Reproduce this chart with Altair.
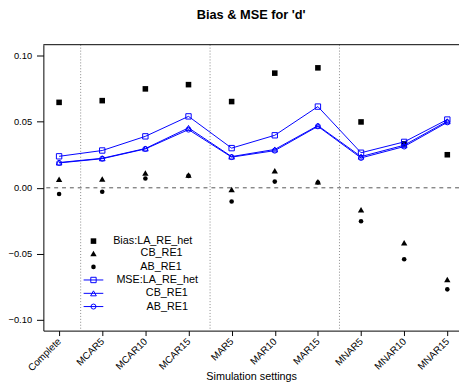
import altair as alt
import pandas as pd

categories = ["Complete", "MCAR5", "MCAR10", "MCAR15", "MAR5", "MAR10", "MAR15",
              "MNAR5", "MNAR10", "MNAR15"]
bias_la = [0.0646, 0.0659, 0.0748, 0.0780, 0.0652, 0.0867, 0.0907, 0.0498, 0.0332, 0.0250]
bias_cb = [0.0065, 0.0067, 0.0111, 0.0097, -0.0012, 0.0129, 0.0045, -0.0166, -0.0416, -0.0693]
bias_ab = [-0.0047, -0.0030, 0.0070, 0.0090, -0.0104, 0.0047, 0.0040, -0.0253, -0.0540, -0.0768]
mse_la = [0.0238, 0.0282, 0.0389, 0.0540, 0.0300, 0.0397, 0.0614, 0.0265, 0.0347, 0.0516]
mse_cb = [0.0191, 0.0223, 0.0297, 0.0453, 0.0236, 0.0290, 0.0470, 0.0236, 0.0322, 0.0503]
mse_ab = [0.0188, 0.0220, 0.0294, 0.0440, 0.0232, 0.0281, 0.0465, 0.0226, 0.0312, 0.0495]
separators = [0.5, 3.5, 6.5]
methods = ["LA", "CB", "AB"]
shapes = ["square", "triangle-up", "circle"]
filled_sizes = {"LA": 32, "CB": 42, "AB": 22}
open_sizes = {"LA": 30, "CB": 34, "AB": 26}

legend_labels = ["Bias:LA_RE_het", "CB_RE1", "AB_RE1", "MSE:LA_RE_het", "CB_RE1", "AB_RE1"]
legend_kind = ["Bias", "Bias", "Bias", "MSE", "MSE", "MSE"]
legend_method = ["LA", "CB", "AB", "LA", "CB", "AB"]
legend_y = [-0.0403, -0.0497, -0.0598, -0.0697, -0.0798, -0.0898]
legend_text_x = [1.253, 1.89, 1.884, 1.328, 2.011, 2.027]
legend_sym_x = 0.797
legend_line_x = [0.569, 1.025]

FONT = "Liberation Sans"

rows = []
for i in range(len(categories)):
    for m, b, s in zip(methods, [bias_la, bias_cb, bias_ab], [mse_la, mse_cb, mse_ab]):
        rows.append({"idx": i, "method": m, "bias": b[i], "mse": s[i],
                     "fsz": filled_sizes[m], "osz": open_sizes[m]})
df = pd.DataFrame(rows)

leg = pd.DataFrame({"label": legend_labels, "kind": legend_kind, "method": legend_method,
                    "ly": legend_y, "tx": legend_text_x})
leg["sx"] = legend_sym_x
leg["lx1"] = legend_line_x[0]
leg["lx2"] = legend_line_x[1]
leg["fsz"] = [filled_sizes[m] for m in legend_method]
leg["osz"] = [open_sizes[m] for m in legend_method]

xs = alt.Scale(domain=[-0.3645, 9.271], nice=False, zero=False)
ys = alt.Scale(domain=[-0.108, 0.1082], nice=False, zero=False)
shape_scale = alt.Scale(domain=methods, range=shapes)
fsize = alt.Size("fsz:Q", scale=None, legend=None)
osize = alt.Size("osz:Q", scale=None, legend=None)

label_expr = "[" + ",".join("'%s'" % c for c in categories) + "][datum.value]"

x_axis = alt.Axis(values=list(range(len(categories))), labelExpr=label_expr, labelAngle=315,
                  labelAlign="right", labelBaseline="middle", labelPadding=4, tickSize=5,
                  grid=False, title="Simulation settings", titleFont=FONT, titleFontSize=11,
                  titleFontWeight="normal", titleBaseline="alphabetic", titleY=50,
                  labelFont=FONT, labelFontSize=10, labelColor="black", domainColor="black",
                  tickColor="black", titleColor="black", labelOverlap=False)
y_axis = alt.Axis(values=[-0.1, -0.05, 0, 0.05, 0.1], format=".2f", tickSize=7, labelPadding=5,
                  grid=False, title=None, labelFont=FONT, labelFontSize=9.5, labelColor="black",
                  domainColor="black", tickColor="black", labelOverlap=False)


def X(field):
    return alt.X(field, type="quantitative", scale=xs, axis=x_axis)


def Y(field):
    return alt.Y(field, type="quantitative", scale=ys, axis=y_axis)


base = alt.Chart(df)

sep = alt.Chart(pd.DataFrame({"x": separators})).mark_rule(
    color="#888888", strokeDash=[1, 2], strokeWidth=1).encode(x=X("x"))

zero = alt.Chart(pd.DataFrame({"y": [0.0]})).mark_rule(
    color="#555555", strokeDash=[4, 4], strokeWidth=1).encode(y=Y("y"))

topline = alt.Chart(pd.DataFrame({"a": [0]})).mark_rule(color="black", strokeWidth=1).encode(
    x=alt.value(0), x2=alt.value(423), y=alt.value(0))

bias_pts = base.mark_point(filled=True, color="black", opacity=1).encode(
    x=X("idx"), y=Y("bias"),
    shape=alt.Shape("method:N", scale=shape_scale, legend=None), size=fsize)

mse_lines = base.mark_line(color="#0000FF", strokeWidth=1).encode(
    x=X("idx"), y=Y("mse"), detail="method:N")

mse_pts = base.mark_point(filled=False, color="#0000FF", opacity=1, strokeWidth=1).encode(
    x=X("idx"), y=Y("mse"),
    shape=alt.Shape("method:N", scale=shape_scale, legend=None), size=osize)

legc = alt.Chart(leg)
leg_bias = legc.transform_filter("datum.kind == 'Bias'").mark_point(
    filled=True, color="black", opacity=1).encode(
    x=X("sx"), y=Y("ly"),
    shape=alt.Shape("method:N", scale=shape_scale, legend=None), size=fsize)
leg_line = legc.transform_filter("datum.kind == 'MSE'").mark_rule(
    color="#0000FF", strokeWidth=1).encode(x=X("lx1"), x2="lx2:Q", y=Y("ly"))
leg_mse = legc.transform_filter("datum.kind == 'MSE'").mark_point(
    filled=False, color="#0000FF", opacity=1, strokeWidth=1).encode(
    x=X("sx"), y=Y("ly"),
    shape=alt.Shape("method:N", scale=shape_scale, legend=None), size=osize)
leg_text = legc.mark_text(align="left", baseline="middle", font=FONT, fontSize=11,
                          color="black").encode(x=X("tx"), y=Y("ly"), text="label:N")

chart = alt.layer(sep, zero, topline, bias_pts, mse_lines, mse_pts,
                  leg_bias, leg_line, leg_mse, leg_text).properties(
    width=423, height=291,
    padding={"left": 36, "top": 34, "right": 0, "bottom": 53},
    autosize=alt.AutoSizeParams(type="none"),
    title=alt.Title("Bias & MSE for 'd'", font=FONT, fontSize=13, fontWeight="bold",
                    anchor="middle", color="black", baseline="bottom", offset=10),
    background="white",
).configure_view(stroke=None)

chart.save("out.html", embed_options={"renderer": "svg", "actions": False})
